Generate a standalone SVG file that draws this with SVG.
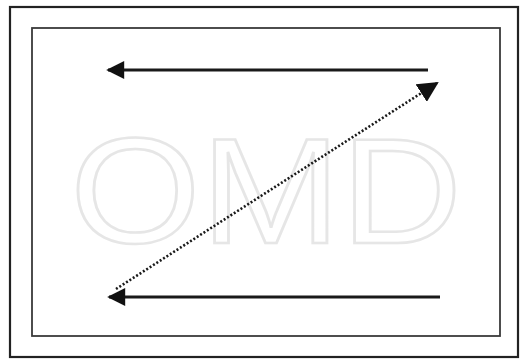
<svg xmlns="http://www.w3.org/2000/svg" width="526" height="360" viewBox="0 0 526 360">
<style>
.frame{fill:none;stroke:#222;stroke-width:2.2}
.inner{fill:none;stroke:#3a3a3a;stroke-width:1.8}
.solid{fill:none;stroke:#1a1a1a;stroke-width:3}
.dotted{fill:none;stroke:#1a1a1a;stroke-width:2.6;stroke-dasharray:2 2}
.wm{font-family:"Liberation Sans",Arial,sans-serif;font-size:150px;fill:none;stroke:#e6e6e6;stroke-width:2.5}
</style>
<defs>
<marker id="ah" viewBox="0 0 10 10" refX="9" refY="5" markerWidth="8" markerHeight="6" markerUnits="strokeWidth" orient="auto">
<path d="M0,0 L10,5 L0,10 z" fill="#111"/>
</marker>
<marker id="ahd" viewBox="0 0 10 10" refX="9" refY="5" markerWidth="8" markerHeight="8" markerUnits="strokeWidth" orient="auto">
<path d="M0,0 L10,5 L0,10 z" fill="#111"/>
</marker>
</defs>
<rect width="526" height="360" fill="#fff"/>
<g id="outer-frame"><rect class="frame" x="10" y="7" width="508" height="350"/></g>
<g id="inner-frame"><rect class="inner" x="32" y="28" width="468" height="308"/></g>
<g id="watermark"><text class="wm" x="70" y="243" textLength="392" lengthAdjust="spacingAndGlyphs">OMD</text></g>
<g id="connectors">
<line class="solid" x1="428" y1="70" x2="108" y2="70" marker-end="url(#ah)"/>
<line class="solid" x1="440" y1="297" x2="109" y2="297" marker-end="url(#ah)"/>
<line class="dotted" x1="116" y1="289" x2="437" y2="83" marker-end="url(#ahd)"/>
</g>
</svg>
